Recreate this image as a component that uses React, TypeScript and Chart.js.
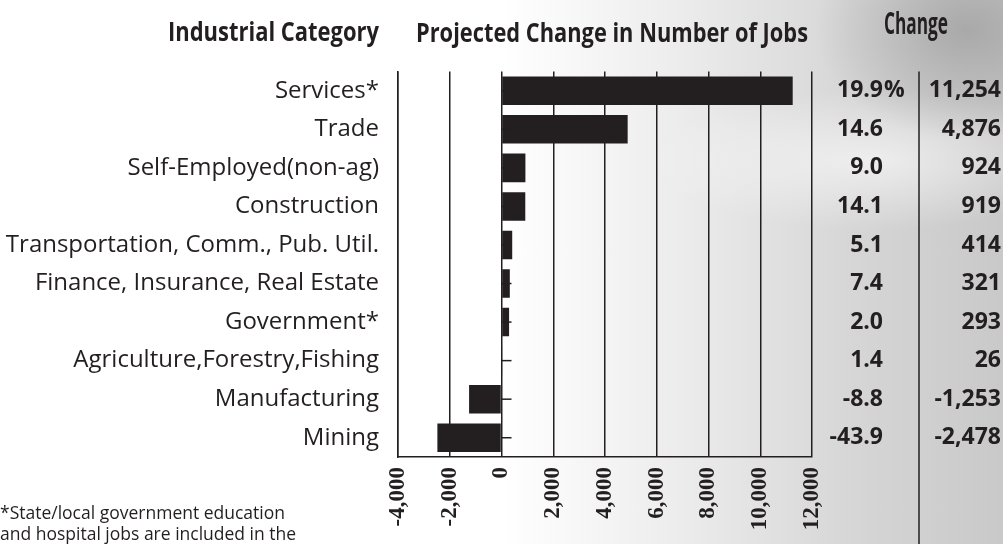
import React, { useEffect, useRef } from "react";
import { Chart, registerables } from "chart.js";

Chart.register(...registerables);

// ---- data ----
const categories = [
  "Services*",
  "Trade",
  "Self-Employed(non-ag)",
  "Construction",
  "Transportation, Comm., Pub. Util.",
  "Finance, Insurance, Real Estate",
  "Government*",
  "Agriculture,Forestry,Fishing",
  "Manufacturing",
  "Mining",
];
const jobChange = [11254, 4876, 924, 919, 414, 321, 293, 26, -1253, -2478];
const percentChange = ["19.9", "14.6", "9.0", "14.1", "5.1", "7.4", "2.0", "1.4", "-8.8", "-43.9"];
const xMin = -4000;
const xMax = 12000;
const xStep = 2000;
const headerCategory = "Industrial Category";
const headerChart = "Projected Change in Number of Jobs";
const headerChange = "Change";
const footnoteLines = ["*State/local government education", "and hospital jobs are included in the"];

const INK = "#231f20";
const W = 1003;
const H = 544;

function drawFit(ctx: CanvasRenderingContext2D, text: string, left: number, right: number, baseline: number) {
  const w = ctx.measureText(text).width;
  const s = (right - left) / w;
  ctx.save();
  ctx.translate(left, baseline);
  ctx.scale(s, 1);
  ctx.textAlign = "left";
  ctx.textBaseline = "alphabetic";
  ctx.fillText(text, 0, 0);
  ctx.restore();
}

const overlayPlugin = {
  id: "overlay",
  afterDatasetsDraw(chart: any) {
    const { ctx, scales } = chart;
    const x = scales.x;
    const y = scales.y;
    const x0 = x.getPixelForValue(0);
    ctx.save();
    ctx.strokeStyle = INK;
    ctx.lineWidth = 1.5;
    categories.forEach((_, i) => {
      const yy = y.getPixelForValue(i);
      ctx.beginPath();
      ctx.moveTo(x0, yy);
      ctx.lineTo(x0 + 10, yy);
      ctx.stroke();
    });
    ctx.restore();
  },
  afterDraw(chart: any) {
    const { ctx, scales, chartArea } = chart;
    const y = scales.y;
    ctx.save();
    ctx.fillStyle = INK;
    // headers
    ctx.font = "bold 27px 'Open Sans', Lato, sans-serif";
    drawFit(ctx, headerCategory, 168, 379, 41);
    drawFit(ctx, headerChart, 416, 808, 42);
    ctx.font = "bold 31px 'Open Sans', Lato, sans-serif";
    drawFit(ctx, headerChange, 884, 948, 34);

    // table separator
    ctx.strokeStyle = INK;
    ctx.lineWidth = 1.5;
    ctx.beginPath();
    ctx.moveTo(919, chartArea.top);
    ctx.lineTo(919, H);
    ctx.stroke();

    // table values
    ctx.font = "bold 23px 'Open Sans', Lato, sans-serif";
    ctx.textBaseline = "middle";
    categories.forEach((_, i) => {
      const yy = y.getPixelForValue(i);
      ctx.textAlign = "right";
      ctx.fillText(percentChange[i], 883, yy);
      if (i === 0) {
        ctx.textAlign = "left";
        ctx.fillText("%", 884, yy);
      }
      ctx.textAlign = "right";
      ctx.fillText(jobChange[i].toLocaleString("en-US"), 1001, yy);
    });

    // footnote
    ctx.font = "17.5px 'Open Sans', Lato, sans-serif";
    ctx.textAlign = "left";
    ctx.textBaseline = "alphabetic";
    ctx.fillText(footnoteLines[0], 0, 519);
    ctx.fillText(footnoteLines[1], 0, 540);
    ctx.restore();
  },
};

export default function App() {
  const ref = useRef<HTMLCanvasElement | null>(null);

  useEffect(() => {
    if (!ref.current) return;
    const chart = new Chart(ref.current, {
      type: "bar",
      data: {
        labels: categories,
        datasets: [
          {
            data: jobChange,
            backgroundColor: INK,
            borderWidth: 0,
            barPercentage: 0.74,
            categoryPercentage: 1,
          },
        ],
      },
      options: {
        indexAxis: "y",
        animation: false,
        responsive: false,
        maintainAspectRatio: false,
        layout: { padding: { top: 71.5, right: 191, left: 0, bottom: 0 } },
        plugins: {
          legend: { display: false },
          tooltip: { enabled: false },
          title: { display: false },
        },
        scales: {
          x: {
            type: "linear",
            min: xMin,
            max: xMax,
            afterFit: (s: any) => {
              s.height = 87;
            },
            grid: { display: true, color: INK, lineWidth: 1.5, drawTicks: false },
            border: { display: true, color: INK, width: 1.5 },
            ticks: {
              stepSize: xStep,
              autoSkip: false,
              minRotation: 90,
              maxRotation: 90,
              padding: 10,
              color: INK,
              font: { family: "'Liberation Serif', 'Times New Roman', serif", weight: "bold", size: 23 },
              callback: (v: any) => Number(v).toLocaleString("en-US"),
            },
          },
          y: {
            type: "category",
            afterFit: (s: any) => {
              s.width = 398;
            },
            grid: { display: false, drawTicks: false },
            border: { display: true, color: INK, width: 1.5 },
            ticks: {
              padding: 19,
              color: INK,
              autoSkip: false,
              font: { family: "'Open Sans', Lato, sans-serif", size: 24 },
            },
          },
        },
      },
      plugins: [overlayPlugin],
    } as any);
    return () => chart.destroy();
  }, []);

  return (
    <div
      style={{
        position: "absolute",
        left: 0,
        top: 0,
        width: W,
        height: H,
        overflow: "hidden",
        background:
          "radial-gradient(ellipse 150px 110px at 965px 30px, rgba(140,140,140,0.55), rgba(140,140,140,0)), radial-gradient(ellipse 220px 70px at 870px 160px, rgba(255,255,255,0.6), rgba(255,255,255,0)), linear-gradient(90deg, #ffffff 0%, #ffffff 50%, #ececec 68%, #d6d6d6 85%, #c9c9c9 100%)",
      }}
    >
      <canvas ref={ref} width={W} height={H} style={{ display: "block" }} />
    </div>
  );
}
